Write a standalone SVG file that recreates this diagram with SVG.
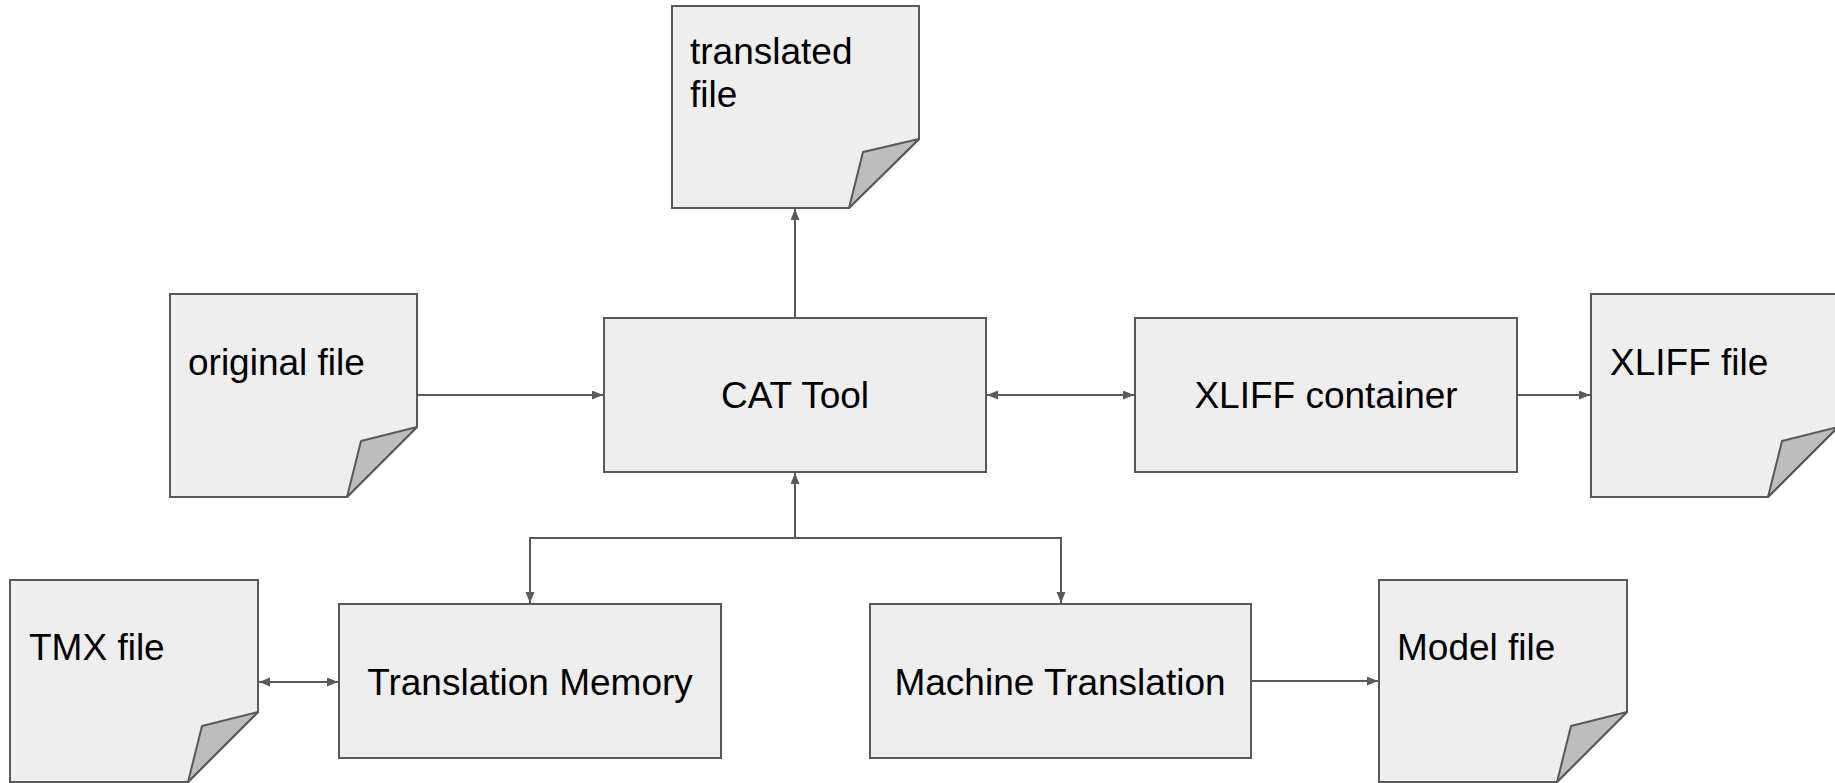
<svg xmlns="http://www.w3.org/2000/svg" width="1835" height="783" viewBox="0 0 1835 783">
<defs>
<marker id="ah" markerUnits="userSpaceOnUse" markerWidth="12" markerHeight="10" refX="11" refY="4.5" orient="auto-start-reverse" viewBox="0 0 12 10">
<path d="M0,0 L11,4.5 L0,9 Z" fill="#595959"/>
</marker>
</defs>
<style>
.page{fill:#eeeeee;stroke:#595959;stroke-width:2}
.fold{fill:#bdbdbd;stroke:#595959;stroke-width:2;stroke-linejoin:round}
.box{fill:#eeeeee;stroke:#595959;stroke-width:2}
.t{font-family:"Liberation Sans",Arial,sans-serif;font-size:37px;fill:#000000}
.c{text-anchor:middle}
.edge{fill:none;stroke:#595959;stroke-width:2}
</style>
<rect width="1835" height="783" fill="#ffffff"/>

<g id="translated-file">
<path class="page" d="M672,6 H919 V139 L849,208 H672 Z"/>
<path class="fold" d="M849,208 L863,152 L919,139 Z"/>
<text class="t" x="690" y="64">translated</text>
<text class="t" x="690" y="107">file</text>
</g>

<g id="original-file">
<path class="page" d="M170,294 H417 V427 L347,497 H170 Z"/>
<path class="fold" d="M347,497 L361,441 L417,427 Z"/>
<text class="t" x="188" y="375">original file</text>
</g>

<g id="cat-tool">
<rect class="box" x="604" y="318" width="382" height="154"/>
<text class="t c" x="795" y="408">CAT Tool</text>
</g>

<g id="xliff-container">
<rect class="box" x="1135" y="318" width="382" height="154"/>
<text class="t c" x="1326" y="408">XLIFF container</text>
</g>

<g id="xliff-file">
<path class="page" d="M1591,294 H1838 V427 L1768,497 H1591 Z"/>
<path class="fold" d="M1768,497 L1782,441 L1838,427 Z"/>
<text class="t" x="1610" y="375">XLIFF file</text>
</g>

<g id="tmx-file">
<path class="page" d="M10,580 H258 V712 L188,782 H10 Z"/>
<path class="fold" d="M188,782 L202,726 L258,712 Z"/>
<text class="t" x="29" y="660">TMX file</text>
</g>

<g id="translation-memory">
<rect class="box" x="339" y="604" width="382" height="154"/>
<text class="t c" x="530" y="695">Translation Memory</text>
</g>

<g id="machine-translation">
<rect class="box" x="870" y="604" width="381" height="154"/>
<text class="t c" x="1060" y="695">Machine Translation</text>
</g>

<g id="model-file">
<path class="page" d="M1379,580 H1627 V712 L1557,782 H1379 Z"/>
<path class="fold" d="M1557,782 L1571,726 L1627,712 Z"/>
<text class="t" x="1397" y="660">Model file</text>
</g>

<g id="connectors">
<path class="edge" d="M795,318 V209" marker-end="url(#ah)"/>
<path class="edge" d="M417,395 H603" marker-end="url(#ah)"/>
<path class="edge" d="M987,395 H1134" marker-start="url(#ah)" marker-end="url(#ah)"/>
<path class="edge" d="M1517,395 H1590" marker-end="url(#ah)"/>
<path class="edge" d="M795,538 V473" marker-end="url(#ah)"/>
<path class="edge" d="M530,603 V538 H1061 V603" marker-start="url(#ah)" marker-end="url(#ah)"/>
<path class="edge" d="M259,682 H338" marker-start="url(#ah)" marker-end="url(#ah)"/>
<path class="edge" d="M1251,681 H1378" marker-end="url(#ah)"/>
</g>
</svg>
